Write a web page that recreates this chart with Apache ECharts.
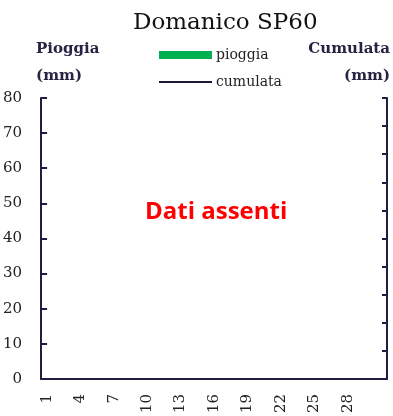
<!DOCTYPE html>
<html><head><meta charset="utf-8">
<script src="https://cdn.jsdelivr.net/npm/echarts@6/dist/echarts.min.js"></script>
<style>html,body{margin:0;padding:0;background:#fff}#c{width:393px;height:416px}</style>
</head><body><div id="c"></div>
<script>
var days = ['1','2','3','4','5','6','7','8','9','10','11','12','13','14','15','16','17','18','19','20','21','22','23','24','25','26','27','28','29','30','31'];
var pioggia = [];
var cumulata = [];
var titleText = 'Domanico SP60';
var noDataText = 'Dati assenti';

var axisColor = '#1f1d44';
var serif = 'DejaVu Serif';
var chart = echarts.init(document.getElementById('c'), null, {renderer: 'canvas'});
chart.setOption({
  animation: false,
  title: {text: titleText, left: 133, top: 12, padding: 0,
    textStyle: {fontFamily: serif, fontSize: 23, fontWeight: 'normal', color: '#111'}},
  legend: {orient: 'vertical', left: 158, top: 48, padding: 0, itemWidth: 53, itemHeight: 8, itemGap: 13,
    textStyle: {fontFamily: serif, fontSize: 14, color: '#222', padding: [0,0,0,-1]},
    data: [{name: 'pioggia', icon: 'rect'}, {name: 'cumulata', itemStyle: {opacity: 0}}]},
  grid: {left: 37, right: 6, top: 98, bottom: 33, containLabel: false},
  graphic: [{type: 'text', left: 145, top: 200,
    style: {text: noDataText, fill: '#ff0000', font: 'bold 24px "Open Sans"'}}],
  xAxis: {type: 'category', data: days, boundaryGap: true,
    axisLine: {lineStyle: {color: axisColor, width: 2}},
    axisTick: {show: false},
    axisLabel: {rotate: 90, margin: 15, fontFamily: serif, fontSize: 15, color: '#222',
      interval: function (i) { return i % 3 === 0 && i < 30; }},
    splitLine: {show: false}},
  yAxis: [
    {type: 'value', min: 0, max: 80, interval: 10, position: 'left',
      name: 'Pioggia\n(mm)', nameLocation: 'end', nameGap: 8,
      nameTextStyle: {fontFamily: serif, fontSize: 15, fontWeight: 'bold', color: '#262442', align: 'left', lineHeight: 27, padding: [0,0,0,-5]},
      axisLine: {show: true, lineStyle: {color: axisColor, width: 2}},
      axisTick: {show: true, inside: true, length: 6, lineStyle: {color: axisColor, width: 2}},
      axisLabel: {margin: 19, fontFamily: serif, fontSize: 15, color: '#222'},
      splitLine: {show: false}},
    {type: 'value', min: 0, max: 100, interval: 10, position: 'right',
      name: 'Cumulata\n(mm)', nameLocation: 'end', nameGap: 8,
      nameTextStyle: {fontFamily: serif, fontSize: 15, fontWeight: 'bold', color: '#262442', align: 'right', lineHeight: 27, padding: [0,-3,0,0]},
      axisLine: {show: true, lineStyle: {color: axisColor, width: 2}},
      axisTick: {show: true, inside: true, length: 5, lineStyle: {color: axisColor, width: 2}},
      axisLabel: {show: false},
      splitLine: {show: false}}
  ],
  series: [
    {name: 'pioggia', type: 'bar', yAxisIndex: 0, data: pioggia, itemStyle: {color: '#00b050'}},
    {name: 'cumulata', type: 'line', yAxisIndex: 1, data: cumulata, symbol: 'none',
      lineStyle: {color: '#1a1838', width: 2}, itemStyle: {color: '#1a1838'}}
  ]
});
</script></body></html>
